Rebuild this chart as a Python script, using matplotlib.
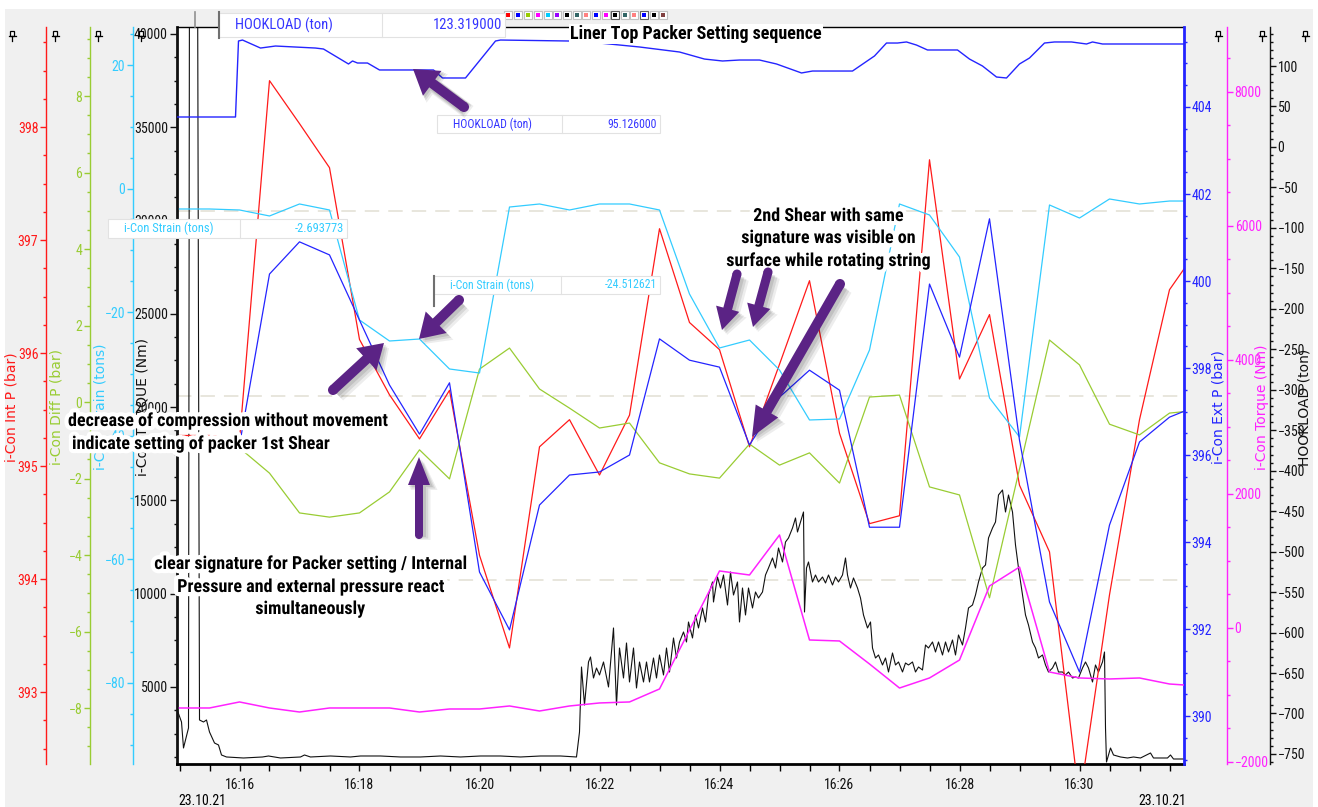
import datetime as dt
import matplotlib
matplotlib.use("Agg")
import matplotlib.pyplot as plt
import matplotlib.dates as mdates
import matplotlib.patheffects as pe
from matplotlib import font_manager
from matplotlib.patches import Rectangle, FancyArrow, Circle
from matplotlib.ticker import MultipleLocator

# ---------------------------------------------------------------- data
# downhole gauge channels, one sample every 30 s
gauge_times = ["16:15:00", "16:15:30", "16:16:00", "16:16:30", "16:17:00", "16:17:30",
               "16:18:00", "16:18:30", "16:19:00", "16:19:30", "16:20:00", "16:20:30",
               "16:21:00", "16:21:30", "16:22:00", "16:22:30", "16:23:00", "16:23:30",
               "16:24:00", "16:24:30", "16:25:00", "16:25:30", "16:26:00", "16:26:30",
               "16:27:00", "16:27:30", "16:28:00", "16:28:30", "16:29:00", "16:29:30",
               "16:30:00", "16:30:30", "16:31:00", "16:31:30", "16:32:00"]
int_p = [395.27, 395.27, 395.23, 398.41, 398.03, 397.64, 396.12, 395.63, 395.24, 395.67,
         394.21, 393.39, 395.17, 395.41, 394.92, 395.45, 397.10, 396.27, 396.03, 395.17,
         395.90, 396.64, 395.29, 394.49, 394.56, 397.71, 395.77, 396.34, 394.83, 394.24,
         392.04, 393.86, 395.41, 396.56, 396.94]
ext_p = [396.34, 396.30, 396.23, 400.16, 400.90, 400.60, 399.10, 397.61, 396.48, 397.66,
         393.31, 391.98, 394.85, 395.54, 395.61, 396.00, 398.67, 398.18, 398.02, 396.23,
         397.33, 397.95, 397.49, 394.34, 394.34, 399.93, 398.25, 401.43, 396.34, 392.62,
         391.01, 394.39, 396.30, 396.87, 397.15]
diff_p = [-0.99, -1.07, -1.20, -1.86, -2.90, -3.01, -2.90, -2.35, -1.25, -2.01,
          0.86, 1.41, 0.34, -0.16, -0.68, -0.55, -1.59, -1.88, -1.99, -1.10,
          -1.65, -1.33, -2.12, 0.13, 0.18, -2.22, -2.43, -5.12, -1.75, 1.62,
          0.97, -0.58, -0.86, -0.29, -0.21]
strain = [-3.30, -3.30, -3.46, -4.43, -2.49, -3.46, -21.26, -24.66, -24.34, -29.19,
          -29.84, -2.98, -2.49, -3.46, -2.49, -2.49, -3.46, -17.06, -25.79, -24.50,
          -29.35, -37.44, -37.28, -26.12, -2.49, -4.27, -11.07, -33.88, -40.19, -2.65,
          -4.76, -1.68, -2.49, -2.01, -2.01]
dh_torque = [-1194, -1194, -1104, -1194, -1254, -1194, -1194, -1194, -1254, -1209,
             -1209, -1164, -1239, -1164, -1119, -1104, -910, -30, 851, 791,
             1388, -179, -194, -537, -896, -746, -478, 627, 910, -657,
             -746, -761, -746, -836, -866]

# surface hookload
hl_times = ["16:14:56", "16:15:56", "16:15:59", "16:16:03", "16:16:21", "16:16:36",
            "16:17:16", "16:17:24", "16:17:49", "16:17:53", "16:17:58", "16:18:08",
            "16:18:20", "16:18:53", "16:19:14", "16:19:23", "16:19:46", "16:20:16",
            "16:20:21", "16:21:29", "16:22:00", "16:22:40", "16:23:20", "16:23:45",
            "16:24:03", "16:24:20", "16:24:40", "16:24:57", "16:25:22", "16:25:33",
            "16:26:13", "16:26:35", "16:26:47", "16:26:58", "16:27:07", "16:27:17",
            "16:27:28", "16:27:58", "16:28:10", "16:28:23", "16:28:37", "16:28:47",
            "16:29:00", "16:29:10", "16:29:25", "16:29:35", "16:29:52", "16:30:07",
            "16:30:13", "16:30:23", "16:31:44"]
hookload = [37.0, 37.0, 130.9, 132.1, 122.2, 124.7, 122.2, 121.0, 102.5, 106.2,
            103.7, 103.7, 95.1, 95.1, 95.1, 85.2, 85.2, 130.9, 132.1, 130.9,
            128.4, 123.5, 117.3, 108.6, 106.2, 107.4, 107.4, 102.5, 91.4, 93.8,
            93.8, 112.4, 128.4, 128.4, 129.7, 125.9, 119.8, 119.8, 108.6, 100.0,
            86.4, 85.2, 102.5, 109.9, 128.4, 129.7, 129.7, 127.2, 129.7, 127.2,
            127.2]

# surface torque, time in seconds after 16:00:00
torque_sec = [897, 902, 904, 909, 910, 918, 920, 924, 927, 930, 935, 939, 942, 947,
              964, 983, 989, 1001, 1021, 1025, 1031, 1051, 1071, 1081, 1101, 1121,
              1141, 1161, 1181, 1201, 1221, 1241, 1261, 1281, 1297,
              1300, 1302, 1305, 1309, 1311, 1314, 1317, 1320, 1324, 1329, 1334, 1337,
              1340, 1344, 1347, 1350, 1354, 1357, 1360, 1364, 1367, 1370, 1374, 1377,
              1380, 1384, 1387, 1390, 1394, 1397, 1400, 1404, 1407, 1409, 1413, 1416,
              1419, 1423, 1426, 1429, 1433, 1434, 1438, 1441, 1444, 1448, 1451, 1454,
              1458, 1460, 1463, 1466, 1469, 1473, 1476, 1479, 1483, 1486, 1489, 1493,
              1496, 1499, 1503, 1506, 1509, 1513, 1516, 1518, 1521, 1524, 1525, 1527,
              1529, 1533, 1536, 1539, 1543, 1546, 1549, 1553, 1556, 1559, 1563, 1566,
              1568, 1571, 1574, 1578, 1581, 1584, 1588, 1591, 1593, 1596, 1599, 1603,
              1606, 1609, 1613, 1616, 1619, 1623, 1626, 1629, 1633, 1636, 1639, 1643,
              1646, 1649, 1653, 1656, 1659, 1663, 1666, 1669, 1673, 1676, 1679, 1683,
              1686, 1689, 1693, 1696, 1699, 1703, 1706, 1709, 1713, 1716, 1719, 1723,
              1726, 1729, 1733, 1736, 1739, 1743, 1746, 1749, 1753, 1756, 1759, 1763,
              1766, 1769, 1773, 1776, 1779, 1783, 1786, 1789, 1793, 1796, 1799, 1803,
              1806, 1809, 1813, 1816, 1819, 1823, 1825, 1826, 1827, 1831, 1834, 1841,
              1848, 1854, 1861, 1871, 1874, 1888, 1891, 1894, 1904]
torque = [3875, 3124, 1731, 2803, 45000, 45000, 3232, 3124, 3232, 2588, 1999, 1892, 1356, 1249,
          1195, 1249, 1302, 1195, 1249, 1356, 1249, 1302, 1249, 1302, 1302, 1249,
          1249, 1302, 1249, 1302, 1302, 1249, 1302, 1302, 1249,
          2588, 6072, 4035, 6340, 6608, 5482, 6018, 5643, 6340, 5000, 8162, 4035,
          7090, 5482, 7358, 5268, 7090, 4946, 6340, 5268, 6340, 5268, 6554, 5482,
          6715, 5643, 7090, 5804, 7626, 6554, 7412, 7947, 7412, 8483, 7626, 8858,
          8162, 9234, 8483, 9930, 10627, 9555, 10895, 10305, 11002, 9394, 11163, 9930,
          10627, 8483, 10305, 8858, 10305, 9234, 10091, 9770, 10091, 11002, 11377, 11913,
          11377, 12449, 11699, 12771, 12985, 13521, 14057, 13306, 13842, 14378, 9019, 11377,
          11699, 10627, 11002, 10627, 10895, 10573, 11002, 10466, 10895, 10627, 11002, 11913,
          11002, 10305, 10841, 10305, 9770, 8858, 8162, 8483, 7090, 6554, 6715, 6179,
          6554, 5804, 6822, 6179, 6340, 5804, 6286, 6179, 6340, 5804, 6072, 5911,
          7251, 7090, 7412, 6876, 7412, 6715, 7412, 6876, 7519, 6715, 7787, 7251,
          8162, 9234, 9394, 9930, 10627, 11377, 11538, 12985, 13521, 13842, 15289, 15557,
          14378, 15289, 14378, 12610, 11377, 9930, 8858, 8323, 7412, 7090, 6554, 6715,
          6179, 5804, 6018, 6340, 5804, 5804, 5643, 5804, 5482, 5536, 5482, 6018,
          6340, 6018, 5268, 6179, 5804, 6340, 6876, 2803, 981, 1731, 1356, 1249,
          1195, 1249, 1195, 1463, 1195, 1195, 1356, 1141, 1141]

# ---------------------------------------------------------------- styling
names = {f.name for f in font_manager.fontManager.ttflist}


def pick(*cands):
    for c in cands:
        if c in names:
            return c
    return "DejaVu Sans"


NARROW = pick("Liberation Sans Narrow", "Roboto Condensed", "Liberation Sans")
LABEL = pick("DejaVu Sans")

RED = "#ff1a1a"
GREEN = "#99cc33"
CYAN = "#33ccff"
BLUE = "#2424ff"
MAGENTA = "#ff22ff"
BLACK = "#111111"
PURPLE = "#5b2385"

W, H = 1318, 807
DAY = dt.datetime(2021, 10, 23)


def clock(s):
    h, m, sec = (int(v) for v in s.split(":"))
    return DAY + dt.timedelta(hours=h, minutes=m, seconds=sec)


g_t = [clock(s) for s in gauge_times]
h_t = [clock(s) for s in hl_times]
q_t = [DAY + dt.timedelta(hours=16, seconds=s) for s in torque_sec]

fig = plt.figure(figsize=(W / 100, H / 100), dpi=100)
fig.patch.set_facecolor("white")
fig.patches.append(Rectangle((5 / W, 0), 1308 / W, (H - 9) / H, transform=fig.transFigure,
                             fc="#f0f0f0", ec="none", zorder=-10))

x0, x1, yt, yb = 177, 1184, 27, 764
ax = fig.add_axes([x0 / W, 1 - yb / H, (x1 - x0) / W, (yb - yt) / H])
ax.set_facecolor("white")


def style_y(a, color, major, minor, side, lw=1.0):
    a.yaxis.set_major_locator(MultipleLocator(major))
    a.yaxis.set_minor_locator(MultipleLocator(minor))
    a.tick_params(axis="y", which="major", length=4, width=1, pad=1.5, colors=color,
                  labelsize=10, labelfontfamily=NARROW)
    a.tick_params(axis="y", which="minor", length=2.3, width=1, colors=color)
    a.spines[side].set_color(color)
    a.spines[side].set_linewidth(lw)


def twin(side, pos, color, lw=1.0):
    t = ax.twinx()
    t.patch.set_visible(False)
    for s in ("top", "bottom", "left", "right"):
        t.spines[s].set_visible(False)
    t.spines[side].set_visible(True)
    t.spines[side].set_position(("axes", pos))
    if side == "left":
        t.yaxis.set_ticks_position("left")
    else:
        t.yaxis.set_ticks_position("right")
    return t


# host: surface torque on the left frame edge
ax.set_ylim(873, 40369)
style_y(ax, BLACK, 5000, 1250, "left", lw=2)
ax.spines["right"].set_visible(False)
ax.spines["top"].set_linewidth(1)
ax.spines["bottom"].set_linewidth(2)
ax.tick_params(axis="y", which="major", length=5, pad=1.5)

ax_int = twin("left", -0.1301, RED)
ax_int.set_ylim(392.363, 398.885)
style_y(ax_int, RED, 1, 0.25, "left")

ax_diff = twin("left", -0.0864, GREEN)
ax_diff.set_ylim(-9.464, 9.804)
style_y(ax_diff, GREEN, 2, 0.5, "left")

ax_str = twin("left", -0.0437, CYAN)
ax_str.set_ylim(-93.11, 26.15)
style_y(ax_str, CYAN, 20, 5, "left")

ax_ext = twin("right", 1.0, BLUE)
ax_ext.set_ylim(388.897, 405.839)
style_y(ax_ext, BLUE, 2, 0.5, "right", lw=2)

ax_tq = twin("right", 1.0427, MAGENTA)
ax_tq.set_ylim(-2030, 8970)
style_y(ax_tq, MAGENTA, 2000, 500, "right")

ax_hl = twin("right", 1.0854, BLACK)
ax_hl.set_ylim(-762.4, 148.2)
style_y(ax_hl, BLACK, 50, 10, "right")

# quarter grid lines
for f in (0.25, 0.5, 0.75):
    ax.plot([0, 1], [f, f], transform=ax.transAxes, color="#e6e4da", lw=1.3,
            ls=(0, (8, 5)), zorder=0.5)

# series
ax.plot(q_t, torque, color=BLACK, lw=0.8, zorder=2)
ax_tq.plot(g_t, dh_torque, color=MAGENTA, lw=1.1)
ax_diff.plot(g_t, diff_p, color=GREEN, lw=0.9)
ax_str.plot(g_t, strain, color=CYAN, lw=0.9)
ax_ext.plot(g_t, ext_p, color=BLUE, lw=0.9)
ax_int.plot(g_t, int_p, color=RED, lw=0.9)
ax_hl.plot(h_t, hookload, color=BLUE, lw=1.0)

# time axis
ax.set_xlim(DAY + dt.timedelta(hours=16, seconds=897.5), DAY + dt.timedelta(hours=16, seconds=1904.5))
ax.xaxis.set_major_locator(mdates.MinuteLocator(byminute=range(0, 60, 2)))
ax.xaxis.set_minor_locator(mdates.SecondLocator(bysecond=[0, 30]))
ax.xaxis.set_major_formatter(mdates.DateFormatter("%H:%M"))
ax.tick_params(axis="x", which="major", length=5, width=1, pad=5, labelsize=10,
               labelfontfamily=NARROW, colors=BLACK)
ax.tick_params(axis="x", which="minor", length=5, width=1)

# ---------------------------------------------------------------- overlay (pixel units)
ov = fig.add_axes([0, 0, 1, 1], zorder=50)
ov.set_xlim(0, W)
ov.set_ylim(H, 0)
ov.axis("off")
ov.patch.set_alpha(0)

# axis titles
for x, txt, col in [(12, "i-Con Int P (bar)", RED), (57, "i-Con Diff P (bar)", GREEN),
                    (100, "i-Con Strain (tons)", CYAN), (143, "i-Con TORQUE (Nm)", BLACK),
                    (1218, "i-Con Ext P (bar)", BLUE), (1262, "i-Con Torque (Nm)", MAGENTA),
                    (1305, "HOOKLOAD (ton)", BLACK)]:
    ov.text(x, 407, txt, rotation=90, ha="center", va="center", color=col,
            fontsize=10, family=LABEL, zorder=1)

# pin glyphs above each scale
for x in (12, 55, 98, 141, 1218, 1262, 1305):
    ov.add_patch(Rectangle((x - 2, 31), 4, 5, fc="white", ec="black", lw=0.9, zorder=2))
    ov.plot([x - 3.5, x + 3.5], [36, 36], color="black", lw=0.9, zorder=2)
    ov.plot([x, x], [36, 41], color="black", lw=0.9, zorder=2)

# channel colour chips
chip_x = [508, 518, 528, 538, 548, 557, 567, 577, 586, 596, 606, 615, 625, 634, 644, 654, 663]
chip_c = ["#ff0000", "#0000ff", "#99cc00", "#ff00ff", "#00ccff", "#9900ff", "#000000",
          "#336666", "#ff8080", "#0000ff", "#ff00ff", "#000000", "#336666", "#ff8080",
          "#0000ff", "#000000", "#804040"]
for i, (x, c) in enumerate(zip(chip_x, chip_c)):
    edge = "#606060" if i in (11, 14) else "#c0c0c0"
    ov.add_patch(Rectangle((x - 4, 11), 8, 8, fc="white", ec=edge, lw=0.8, zorder=2))
    ov.add_patch(Rectangle((x - 2, 13), 4, 4, fc=c, ec="none", zorder=3))


def value_box(xa, xd, xb, ya, yb2, name, value, color, size, flag=None):
    ov.add_patch(Rectangle((xa, ya), xb - xa, yb2 - ya, fc="white", ec="#e2e2e2", lw=0.8, zorder=3))
    ov.plot([xd, xd], [ya, yb2], color="#e2e2e2", lw=0.8, zorder=3)
    ym = (ya + yb2) / 2
    ov.text(xa + 16, ym, name, ha="left", va="center", color=color, fontsize=size,
            family=NARROW, zorder=4)
    ov.text(xb - 3, ym, value, ha="right", va="center", color=color, fontsize=size,
            family=NARROW, zorder=4)
    if flag is not None:
        ov.plot([xa, xa], flag, color="#707070", lw=1.5, zorder=4)


value_box(219, 382, 505, 13, 37, "HOOKLOAD (ton)", "123.319000", "#3535ff", 10.5, flag=(12, 38))
value_box(437, 562, 660, 115, 133, "HOOKLOAD (ton)", "95.126000", "#3535ff", 8.5)
value_box(108, 240, 347, 219, 238, "i-Con Strain (tons)", "-2.693773", CYAN, 9)
value_box(434, 561, 660, 276, 294, "i-Con Strain (tons)", "-24.512621", CYAN, 8.5, flag=(276, 306))
ov.plot([195, 195], [12, 27], color="#909090", lw=1.2, zorder=3)

# title
ov.text(570, 34, "Liner Top Packer Setting sequence", ha="left", va="center",
        fontsize=13, weight="bold", family=NARROW, color="black", zorder=6,
        bbox=dict(fc="white", ec="none", pad=1.0))

halo = [pe.withStroke(linewidth=6, foreground="white")]


def note(x, y, s, ha="center"):
    ov.text(x, y, s, ha=ha, va="center", fontsize=13, weight="bold", family=NARROW,
            color="black", zorder=6, path_effects=halo)


note(68, 421, "decrease of compression without movement", ha="left")
note(72, 444, "indicate setting of packer 1st Shear", ha="left")
for y, s in [(564, "clear signature for Packer setting / Internal"),
             (587, "Pressure and external pressure react"),
             (609, "simultaneously")]:
    note(310, y, s)
for y, s in [(216, "2nd Shear with same"),
             (238, "signature was visible on"),
             (261, "surface while rotating string")]:
    note(828, y, s)


def arrow(xa, ya, xb, yb2, w=10, hw=30, hl=25):
    dx, dy = xb - xa, yb2 - ya
    for k, a in ((5, 0.07), (3.5, 0.09), (2, 0.1)):
        ov.add_patch(FancyArrow(xa + k, ya + k, dx, dy, width=w + k, head_width=hw + k,
                                head_length=hl, length_includes_head=True,
                                fc="black", ec="none", alpha=a, zorder=7))
    ov.add_patch(FancyArrow(xa, ya, dx, dy, width=w, head_width=hw, head_length=hl,
                            length_includes_head=True, fc=PURPLE, ec="none", zorder=8))
    ov.add_patch(Circle((xa, ya), w / 2, fc=PURPLE, ec="none", zorder=8))


arrow(464, 107, 413, 69, w=10, hw=31, hl=24)
arrow(459, 300, 419, 339, w=10, hw=30, hl=24)
arrow(333, 390, 384, 343, w=10, hw=30, hl=24)
arrow(419, 535, 419, 457, w=8, hw=22, hl=28)
arrow(737, 274, 722, 330, w=9, hw=24, hl=22)
arrow(768, 272, 753, 327, w=9, hw=24, hl=22)
arrow(840, 284, 752, 437, w=10, hw=26, hl=30)

# date stamps under the time axis
ov.text(178, 801, "23.10.21", ha="left", va="center", fontsize=10, family=NARROW, zorder=2)
ov.text(1186, 801, "23.10.21", ha="right", va="center", fontsize=10, family=NARROW, zorder=2)

fig.savefig("out.png", dpi=100, facecolor=fig.get_facecolor())
